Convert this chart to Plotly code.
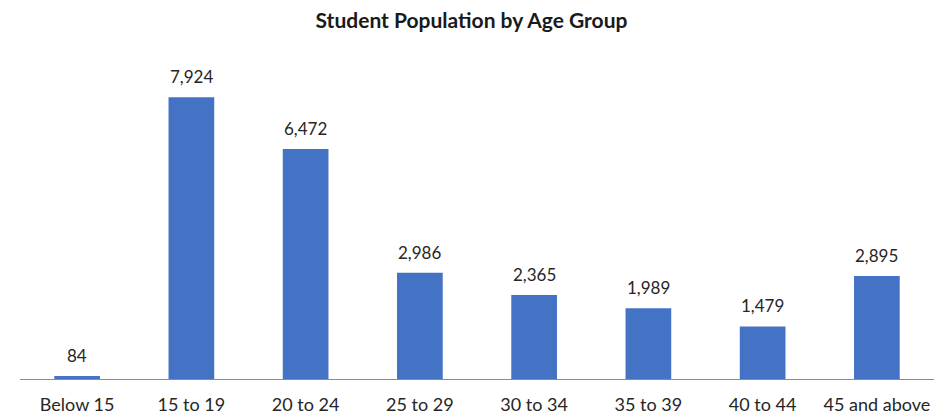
import plotly.graph_objects as go

# Student counts per age band
age_groups = ["Below 15", "15 to 19", "20 to 24", "25 to 29",
              "30 to 34", "35 to 39", "40 to 44", "45 and above"]
students = [84, 7924, 6472, 2986, 2365, 1989, 1479, 2895]
value_labels = [f"{v:,}" for v in students]

FONT = "Lato, Open Sans, sans-serif"
BAR_BLUE = "#4472C4"

fig = go.Figure(
    go.Bar(
        x=age_groups,
        y=students,
        marker=dict(color=BAR_BLUE, line=dict(width=0)),
        hoverinfo="skip",
    )
)

# value labels sitting above each bar
for cat, val, lab in zip(age_groups, students, value_labels):
    fig.add_annotation(
        x=cat, y=val, text=lab, showarrow=False,
        yanchor="bottom", yshift=8,
        font=dict(family=FONT, size=17, color="#262626"),
    )

fig.update_layout(
    width=943, height=420,
    margin=dict(l=20, r=9, t=59, b=41, autoexpand=False),
    paper_bgcolor="white", plot_bgcolor="white",
    bargap=0.6,
    showlegend=False,
    title=dict(
        text="<b>Student Population by Age Group</b>",
        x=0.5, xanchor="center", y=0.952, yanchor="middle",
        font=dict(family=FONT, size=21, color="#1a1a1a"),
    ),
    xaxis=dict(
        showline=True, linecolor="#8c8c8c", linewidth=1,
        showgrid=False, ticks="", ticklabelstandoff=9,
        automargin=False,
        tickfont=dict(family=FONT, size=18, color="#262626"),
    ),
    yaxis=dict(
        range=[0, 9000], visible=False, showgrid=False, zeroline=False,
        automargin=False,
    ),
)

fig.write_html("out.html")
